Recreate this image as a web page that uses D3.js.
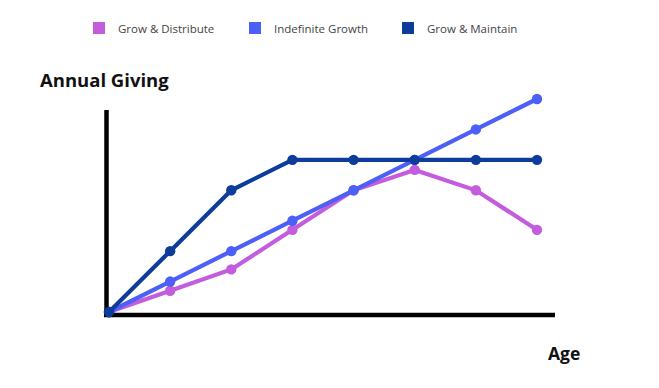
<!DOCTYPE html>
<html>
<head>
<meta charset="utf-8">
<script src="https://cdn.jsdelivr.net/npm/d3@7"></script>
<style>
  body { margin: 0; background: #fff; }
  svg { display: block; font-family: "Open Sans", sans-serif; }
</style>
</head>
<body>
<svg id="chart" width="659" height="388"></svg>
<script>
// age steps along the x axis (no tick labels shown)
const ages = [0, 1, 2, 3, 4, 5, 6, 7];
const seriesNames = ["Grow & Distribute", "Indefinite Growth", "Grow & Maintain"];
const growDistribute = [0, 0.7, 1.4, 2.7, 4, 4.67, 4, 2.7];
const indefiniteGrowth = [0, 1, 2, 3, 4, 5, 6, 7];
const growMaintain = [0, 2, 4, 5, 5, 5, 5, 5];
const colors = ["#c35cdd", "#4c5ff6", "#0e3c9d"];

var svg = d3.select("#chart");

var x = d3.scaleLinear().domain([0, 7]).range([109, 537]);
var y = d3.scaleLinear().domain([0, 7]).range([312, 99]);

// legend
const legendX = [93, 249, 402];
var legend = svg.append("g").attr("class", "legend");
seriesNames.forEach((name, i) => {
    let g = legend.append("g").attr("transform", `translate(${legendX[i]},22)`);
    g.append("rect")
        .attr("width", 12)
        .attr("height", 12)
        .attr("fill", colors[i]);
    g.append("text")
        .attr("x", 25)
        .attr("y", 11)
        .attr("font-size", 11.5)
        .attr("fill", "#444")
        .text(name);
});

// axis titles
svg.append("text")
    .attr("x", 40)
    .attr("y", 87)
    .attr("font-size", 18.5)
    .attr("font-weight", 700)
    .attr("fill", "#111")
    .text("Annual Giving");

svg.append("text")
    .attr("x", 548)
    .attr("y", 360)
    .attr("font-size", 17.5)
    .attr("font-weight", 700)
    .attr("fill", "#111")
    .text("Age");

// series
const allSeries = [growDistribute, indefiniteGrowth, growMaintain];
var line = d3.line()
    .x((d, i) => x(ages[i]))
    .y(d => y(d));

allSeries.forEach((vals, s) => {
    let g = svg.append("g").attr("class", "series");
    g.append("path")
        .datum(vals)
        .attr("d", line)
        .attr("fill", "none")
        .attr("stroke", colors[s])
        .attr("stroke-width", 4.2);
    g.selectAll("circle")
        .data(vals)
        .enter()
        .append("circle")
        .attr("cx", (d, i) => x(ages[i]))
        .attr("cy", d => y(d))
        .attr("r", 5.2)
        .attr("fill", colors[s]);
});

// axes (plain thick lines, no ticks)
svg.append("line")
    .attr("x1", 106.5).attr("y1", 110)
    .attr("x2", 106.5).attr("y2", 317)
    .attr("stroke", "#000")
    .attr("stroke-width", 4.5);
svg.append("line")
    .attr("x1", 104).attr("y1", 315)
    .attr("x2", 555).attr("y2", 315)
    .attr("stroke", "#000")
    .attr("stroke-width", 4.5);

// first point sits on top of the axes corner
svg.append("circle")
    .attr("cx", x(ages[0]))
    .attr("cy", y(growMaintain[0]))
    .attr("r", 5.2)
    .attr("fill", colors[2]);
</script>
</body>
</html>
